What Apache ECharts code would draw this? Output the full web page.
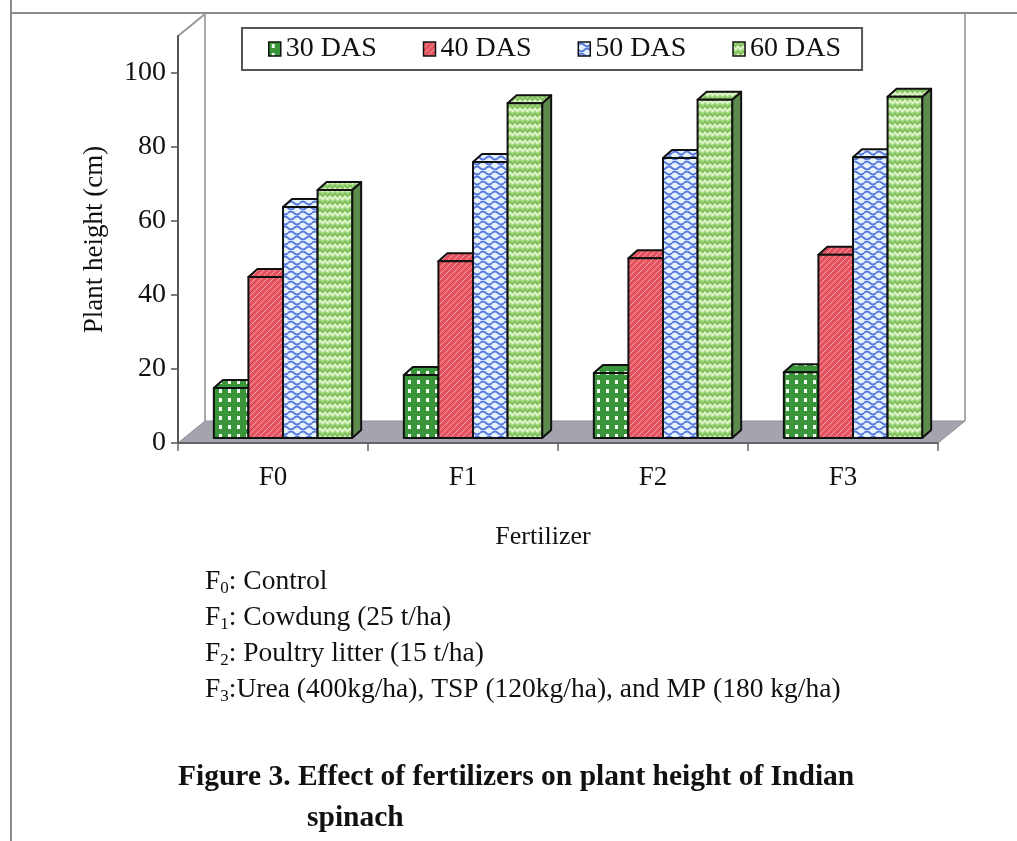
<!DOCTYPE html>
<html>
<head>
<meta charset="utf-8">
<script src="https://cdn.jsdelivr.net/npm/echarts@6/dist/echarts.min.js"></script>
<style>
  html, body { margin: 0; padding: 0; background: #fff; }
  #chart { width: 1017px; height: 841px; }
</style>
</head>
<body>
<div id="chart"></div>
<script>
// ---- data ----
const categories = ['F0', 'F1', 'F2', 'F3'];
const seriesNames = ['30 DAS', '40 DAS', '50 DAS', '60 DAS'];
const das30 = [13.5, 17.0, 17.6, 17.8];
const das40 = [43.5, 47.8, 48.6, 49.5];
const das50 = [62.4, 74.6, 75.7, 75.9];
const das60 = [67.0, 90.5, 91.4, 92.2];
const yTicks = [0, 20, 40, 60, 80, 100];
const footnotes = [
  ['F', '0', ': Control'],
  ['F', '1', ': Cowdung (25 t/ha)'],
  ['F', '2', ': Poultry litter (15 t/ha)'],
  ['F', '3', ':Urea (400kg/ha), TSP (120kg/ha), and MP (180 kg/ha)']
];
const captionLines = ['Figure 3. Effect of fertilizers on plant height of Indian', 'spinach'];

const SERIF = "'Liberation Serif', 'Times New Roman', serif";

// ---- fill patterns ----
function canvasOf(w, h) {
  const c = document.createElement('canvas');
  c.width = w; c.height = h;
  return [c, c.getContext('2d')];
}
function patternDots() {
  const [c, g] = canvasOf(9, 9);
  g.fillStyle = '#3b963b'; g.fillRect(0, 0, 9, 9);
  g.fillStyle = '#f2fbef'; g.fillRect(3, 2, 3, 4);
  return { image: c, repeat: 'repeat' };
}
function patternHatch() {
  const [c, g] = canvasOf(6, 6);
  g.fillStyle = '#e4535f'; g.fillRect(0, 0, 6, 6);
  g.strokeStyle = '#f6a2a9'; g.lineWidth = 1;
  [[-3, 3, 3, -3], [0, 6, 6, 0], [3, 9, 9, 3]].forEach(function (l) {
    g.beginPath(); g.moveTo(l[0], l[1]); g.lineTo(l[2], l[3]); g.stroke();
  });
  return { image: c, repeat: 'repeat' };
}
function patternWave() {
  const [c, g] = canvasOf(12, 10);
  g.fillStyle = '#e6f3fc'; g.fillRect(0, 0, 12, 10);
  g.strokeStyle = '#5678de'; g.lineWidth = 1.8;
  g.beginPath(); g.moveTo(0, 3); g.quadraticCurveTo(3, 0, 6, 3); g.quadraticCurveTo(9, 6, 12, 3); g.stroke();
  g.beginPath(); g.moveTo(-6, 8); g.quadraticCurveTo(-3, 5, 0, 8); g.quadraticCurveTo(3, 11, 6, 8);
  g.quadraticCurveTo(9, 5, 12, 8); g.quadraticCurveTo(15, 11, 18, 8); g.stroke();
  return { image: c, repeat: 'repeat' };
}
function patternZigzag() {
  const [c, g] = canvasOf(10, 8);
  g.fillStyle = '#a9dd86'; g.fillRect(0, 0, 10, 8);
  g.strokeStyle = '#79b957'; g.lineWidth = 1.2;
  g.beginPath(); g.moveTo(0, 1); g.lineTo(2.5, 4); g.lineTo(5, 1); g.lineTo(7.5, 4); g.lineTo(10, 1); g.stroke();
  g.strokeStyle = '#eaf8da'; g.lineWidth = 1.4;
  g.beginPath(); g.moveTo(0, 4.5); g.lineTo(2.5, 7.5); g.lineTo(5, 4.5); g.lineTo(7.5, 7.5); g.lineTo(10, 4.5); g.stroke();
  return { image: c, repeat: 'repeat' };
}
const fills = [patternDots(), patternHatch(), patternWave(), patternZigzag()];
const sideColors = ['#2c6e2c', '#a8323e', '#7a8fbf', '#5d8a4d'];

// ---- 3D box geometry (pixels) ----
const FRONT_DX = 10, FRONT_DY = 5;   // bars stand slightly back on the floor
const DEPTH_DX = 9, DEPTH_DY = 8;    // bar depth
const FLOOR_DX = 27, FLOOR_DY = 22;  // floor / wall depth

function barRenderer(s) {
  return function (params, api) {
    const i = api.value(0), v = api.value(1);
    const base = api.coord([i, 0]);
    const top = api.coord([i, v]);
    const band = api.size([1, 0])[0];
    const w = band * 0.182;
    const x0 = base[0] - 2 * w + FRONT_DX + s * w;
    const x1 = x0 + w;
    const yb = base[1] - FRONT_DY;
    const yt = top[1] - FRONT_DY;
    const edge = { stroke: '#111', lineWidth: 2, lineJoin: 'round' };
    return {
      type: 'group',
      children: [
        { type: 'polygon', shape: { points: [[x1, yt], [x1 + DEPTH_DX, yt - DEPTH_DY], [x1 + DEPTH_DX, yb - DEPTH_DY], [x1, yb]] },
          style: Object.assign({ fill: sideColors[s] }, edge) },
        { type: 'polygon', shape: { points: [[x0, yt], [x0 + DEPTH_DX, yt - DEPTH_DY], [x1 + DEPTH_DX, yt - DEPTH_DY], [x1, yt]] },
          style: Object.assign({ fill: fills[s] }, edge) },
        { type: 'rect', shape: { x: x0, y: yt, width: w, height: yb - yt },
          style: Object.assign({ fill: fills[s] }, edge) }
      ]
    };
  };
}

function renderFrame(params, api) {
  const r = params.coordSys;
  const xl = r.x, xr = r.x + r.width, yt = r.y, yb = r.y + r.height;
  return {
    type: 'group',
    children: [
      { type: 'polygon', shape: { points: [[xl, yb], [xl + FLOOR_DX, yb - FLOOR_DY], [xr + FLOOR_DX, yb - FLOOR_DY], [xr, yb]] },
        style: { fill: '#a4a4ae', stroke: '#8c8c96', lineWidth: 1 } },
      { type: 'line', shape: { x1: xl, y1: yt, x2: xl + FLOOR_DX, y2: yt - FLOOR_DY }, style: { stroke: '#9a9a9a', lineWidth: 2 } },
      { type: 'line', shape: { x1: xl + FLOOR_DX, y1: yt - FLOOR_DY, x2: xl + FLOOR_DX, y2: yb - FLOOR_DY }, style: { stroke: '#aaaaaa', lineWidth: 2 } },
      { type: 'line', shape: { x1: xr + FLOOR_DX, y1: yt - FLOOR_DY, x2: xr + FLOOR_DX, y2: yb - FLOOR_DY }, style: { stroke: '#aaaaaa', lineWidth: 2 } }
    ]
  };
}

const valueSets = [das30, das40, das50, das60];
const series = [{
  type: 'custom', name: 'floor', coordinateSystem: 'cartesian2d', z: 1, clip: false, silent: true,
  data: [[0, 0]], renderItem: renderFrame
}].concat(valueSets.map(function (vals, s) {
  return {
    type: 'custom', name: seriesNames[s], coordinateSystem: 'cartesian2d', z: 3, clip: false,
    itemStyle: { color: fills[s] },
    encode: { x: 0, y: 1 },
    data: vals.map(function (v, i) { return [i, v]; }),
    renderItem: barRenderer(s)
  };
}));

// ---- notes and caption ----
const graphics = [
  { type: 'line', shape: { x1: 11, y1: 0, x2: 11, y2: 841 }, style: { stroke: '#8c8c8c', lineWidth: 2 } },
  { type: 'line', shape: { x1: 11, y1: 13, x2: 1017, y2: 13 }, style: { stroke: '#8c8c8c', lineWidth: 2 } }
];
footnotes.forEach(function (f, k) {
  graphics.push({
    type: 'text',
    style: {
      x: 205, y: 582 + k * 36, verticalAlign: 'middle',
      text: '{m|' + f[0] + '}{s|' + f[1] + '}{m|' + f[2] + '}',
      rich: {
        m: { fontFamily: SERIF, fontSize: 27.5, lineHeight: 30, fill: '#111' },
        s: { fontFamily: SERIF, fontSize: 17, lineHeight: 16, verticalAlign: 'bottom', fill: '#111' }
      }
    }
  });
});
graphics.push({ type: 'text', style: { x: 178, y: 777, verticalAlign: 'middle', text: captionLines[0],
  fontFamily: SERIF, fontSize: 29.5, fontWeight: 'bold', fill: '#111' } });
graphics.push({ type: 'text', style: { x: 307, y: 818, verticalAlign: 'middle', text: captionLines[1],
  fontFamily: SERIF, fontSize: 29.5, fontWeight: 'bold', fill: '#111' } });

const chart = echarts.init(document.getElementById('chart'), null, { renderer: 'canvas' });
chart.setOption({
  backgroundColor: '#ffffff',
  animation: false,
  grid: { left: 178, right: 79, top: 36, bottom: 398, containLabel: false },
  legend: {
    left: 242, top: 28,
    padding: [7, 21, 7, 26],
    itemGap: 46, itemWidth: 12, itemHeight: 14,
    borderColor: '#555', borderWidth: 2,
    icon: 'rect',
    textStyle: { fontFamily: SERIF, fontSize: 28, color: '#111' },
    data: seriesNames.map(function (n, s) {
      return { name: n, itemStyle: { color: fills[s], borderColor: '#111', borderWidth: 1.5 } };
    })
  },
  xAxis: {
    type: 'category', data: categories, z: 5,
    axisLine: { lineStyle: { color: '#666', width: 2 } },
    axisTick: { show: true, length: 8, lineStyle: { color: '#666', width: 1.5 } },
    axisLabel: { fontFamily: SERIF, fontSize: 27, color: '#111', margin: 21 },
    name: 'Fertilizer', nameLocation: 'middle', nameGap: 81,
    nameTextStyle: { fontFamily: SERIF, fontSize: 26, color: '#111', padding: [0, 30, 0, 0] },
    splitLine: { show: false }
  },
  yAxis: {
    type: 'value', min: 0, max: 110, z: 5,
    axisLine: { show: true, lineStyle: { color: '#555', width: 2 } },
    axisTick: { show: true, length: 7, customValues: yTicks, lineStyle: { color: '#555', width: 1.5 } },
    axisLabel: { customValues: yTicks, fontFamily: SERIF, fontSize: 28, color: '#111', margin: 12 },
    splitLine: { show: false },
    name: 'Plant height (cm)', nameLocation: 'middle', nameGap: 70,
    nameTextStyle: { fontFamily: SERIF, fontSize: 27, color: '#111' }
  },
  series: series,
  graphic: graphics
});
</script>
</body>
</html>
